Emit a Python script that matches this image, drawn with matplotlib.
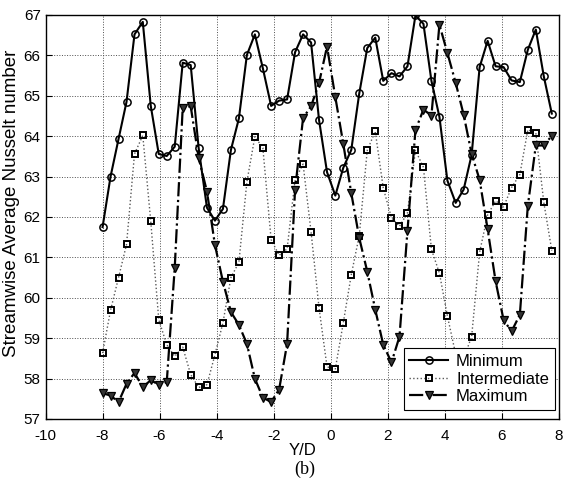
import numpy as np
import matplotlib
matplotlib.use("Agg")
import matplotlib.pyplot as plt

# Y/D positions (shared by all three curves)
y_d = [-8.00, -7.72, -7.44, -7.16, -6.88, -6.59, -6.31, -6.03, -5.75, -5.47,
       -5.19, -4.91, -4.63, -4.34, -4.06, -3.78, -3.50, -3.22, -2.94, -2.66,
       -2.38, -2.09, -1.81, -1.53, -1.25, -0.97, -0.69, -0.41, -0.13, 0.16,
       0.44, 0.72, 1.00, 1.28, 1.56, 1.84, 2.13, 2.41, 2.69, 2.97,
       3.25, 3.53, 3.81, 4.09, 4.38, 4.66, 4.94, 5.22, 5.50, 5.78,
       6.06, 6.34, 6.63, 6.91, 7.19, 7.47, 7.75]

nu_minimum = [61.75, 63.00, 63.93, 64.85, 66.52, 66.83, 64.75, 63.56, 63.51, 63.74,
              65.82, 65.76, 63.70, 62.23, 61.91, 62.20, 63.66, 64.44, 66.01, 66.52,
              65.68, 64.75, 64.88, 64.91, 66.08, 66.52, 66.32, 64.40, 63.11, 62.53,
              63.22, 63.66, 65.06, 66.18, 66.44, 65.37, 65.56, 65.48, 65.73, 66.99,
              66.78, 65.37, 64.48, 62.90, 62.35, 62.68, 63.54, 65.71, 66.36, 65.73,
              65.71, 65.38, 65.34, 66.14, 66.64, 65.48, 64.56]

nu_intermediate = [58.63, 59.69, 60.50, 61.32, 63.56, 64.02, 61.89, 59.46, 58.84, 58.55,
                   58.78, 58.10, 57.78, 57.85, 58.59, 59.38, 60.50, 60.88, 62.87, 63.99,
                   63.71, 61.44, 61.05, 61.21, 62.92, 63.31, 61.63, 59.75, 58.29, 58.24,
                   59.38, 60.57, 61.54, 63.65, 64.12, 62.72, 61.98, 61.77, 62.10, 63.65,
                   63.23, 61.20, 60.61, 59.55, 58.60, 58.50, 59.04, 61.13, 62.05, 62.40,
                   62.25, 62.73, 63.05, 64.16, 64.08, 62.36, 61.17]

nu_maximum = [57.64, 57.58, 57.42, 57.87, 58.14, 57.79, 57.96, 57.85, 57.91, 60.74,
              64.70, 64.74, 63.46, 62.63, 61.31, 60.40, 59.65, 59.33, 58.86, 58.00,
              57.53, 57.42, 57.73, 58.86, 62.68, 64.45, 64.74, 65.32, 66.22, 64.97,
              63.81, 62.59, 61.48, 60.65, 59.71, 58.84, 58.40, 59.04, 61.66, 64.15,
              64.66, 64.51, 66.76, 66.06, 65.32, 64.53, 63.56, 62.92, 61.70, 60.41,
              59.45, 59.17, 59.58, 62.28, 63.77, 63.77, 64.01]

plt.rcParams['font.family'] = ['Liberation Sans', 'DejaVu Sans']
plt.rcParams['axes.unicode_minus'] = False

fig = plt.figure(figsize=(5.64, 4.90), dpi=100)
ax = fig.add_axes([0.0807, 0.1449, 0.9103, 0.8245])

ax.plot(y_d, nu_minimum, '-', color='black', lw=1.5, marker='o', ms=5.2,
        mfc='none', mec='black', mew=1.1, label='Minimum')
ax.plot(y_d, nu_intermediate, ':', color='0.35', lw=1.0, marker='s', ms=4.6,
        mfc='none', mec='black', mew=1.4, label='Intermediate')
ax.plot(y_d, nu_maximum, '-.', color='black', lw=1.6, marker='v', ms=5.5,
        mfc='0.2', mec='black', mew=0.9, label='Maximum')

ax.set_xlim(-10, 8)
ax.set_ylim(57, 67)
ax.set_xticks(np.arange(-10, 9, 2))
ax.set_yticks(np.arange(57, 68, 1))
ax.grid(True, linestyle=':', color='0.3', linewidth=0.7)
ax.tick_params(direction='in', length=4, labelsize=11, width=0.8)
ax.tick_params(axis='x', pad=7)
for sp in ax.spines.values():
    sp.set_linewidth(1.0)

ax.set_xlabel('Y/D', fontsize=12, labelpad=0)
ax.set_ylabel('Streamwise Average Nusselt number', fontsize=13.5)
ax.yaxis.set_label_coords(-0.05, 0.535)

leg = ax.legend(loc='lower right', bbox_to_anchor=(0.992, 0.022), borderaxespad=0,
                fancybox=False, edgecolor='black', framealpha=1, fontsize=12,
                handlelength=2.3, borderpad=0.35, labelspacing=0.15, handletextpad=0.5)
leg.get_frame().set_linewidth(0.8)

fig.text(0.54, 0.033, '(b)', family='Liberation Serif', fontsize=13, ha='center')

fig.savefig('out.png', dpi=100)
